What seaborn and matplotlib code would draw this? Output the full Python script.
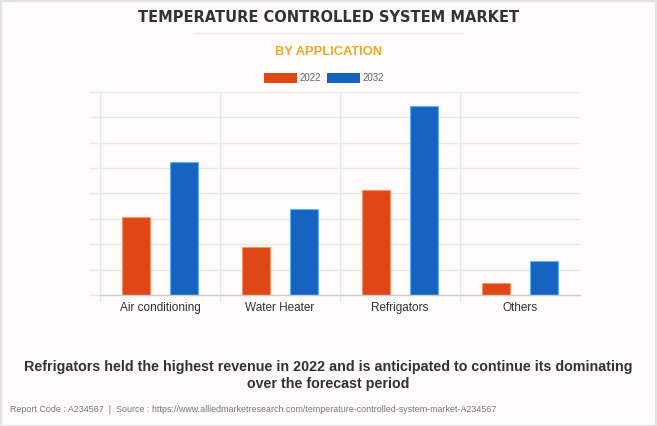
import numpy as np
import pandas as pd
import matplotlib.pyplot as plt
import seaborn as sns
from matplotlib.patches import Rectangle
from matplotlib.lines import Line2D

# =====================================================
# DATA (gridline units)
# =====================================================

categories = ["Air conditioning", "Water Heater", "Refrigators", "Others"]
years = ["2022", "2032"]
values_2022 = [3.08, 1.89, 4.12, 0.48]
values_2032 = [5.22, 3.39, 7.45, 1.35]

colors = {"2022": "#DF4716", "2032": "#1565C0"}

df = pd.DataFrame({
    "Application": categories * 2,
    "Year": ["2022"] * len(categories) + ["2032"] * len(categories),
    "Value": values_2022 + values_2032,
})

# =====================================================
# FIGURE
# =====================================================

sns.set_theme(style="white")
plt.rcParams["font.family"] = ["Liberation Sans", "DejaVu Sans"]

bg = "#FDFCFB"
fig = plt.figure(figsize=(6.57, 4.26), dpi=100, facecolor=bg)
ax = fig.add_axes([100 / 657, 1 - 295 / 426, 480 / 657, (295 - 91.7) / 426])
ax.set_facecolor(bg)

sns.barplot(
    data=df,
    x="Application",
    y="Value",
    hue="Year",
    palette=colors,
    saturation=1,
    width=0.8,
    gap=0.4,
    linewidth=0.8,
    legend=False,
    ax=ax,
)

# lighter edges per series
for patch in ax.patches:
    fc = patch.get_facecolor()
    patch.set_edgecolor((min(1, fc[0] + 0.3), min(1, fc[1] + 0.3), min(1, fc[2] + 0.3), 1))

ax.set_ylim(0, 8)
ax.set_xlim(-0.5, 3.5)
ax.set_xlabel("")
ax.set_ylabel("")
ax.set_yticks(np.arange(0, 9, 1))
ax.set_yticklabels([])
ax.set_xticks(range(len(categories)))
ax.set_xticklabels(categories, fontsize=8.5, color="#333333")
ax.tick_params(axis="x", length=0, pad=5)
ax.tick_params(axis="y", left=True, length=8, color="#E8E8E8", width=1)

ax.grid(axis="y", color="#E8E8E8", linewidth=1)
ax.set_axisbelow(True)
for s in ["top", "right", "left"]:
    ax.spines[s].set_visible(False)
ax.spines["bottom"].set_color("#CCCCCC")
ax.spines["bottom"].set_linewidth(1)

# vertical separators between categories (extend a little below axis)
for xv in [-0.5, 0.5, 1.5, 2.5]:
    ax.add_line(Line2D([xv, xv], [-0.25, 8], color="#E8E8E8", linewidth=1,
                       clip_on=False, zorder=0))

# =====================================================
# TEXTS
# =====================================================

fig.text(0.5, 1 - 18 / 426, "TEMPERATURE CONTROLLED SYSTEM MARKET",
         ha="center", va="center", fontsize=10.5, fontweight="bold",
         color="#333333", fontfamily="DejaVu Sans")
fig.add_artist(Line2D([193 / 657, 463 / 657], [1 - 33 / 426, 1 - 33 / 426],
                      color="#EBEBEB", linewidth=1))
fig.text(0.5, 1 - 52 / 426, "BY APPLICATION", ha="center", va="center",
         fontsize=9.3, fontweight="bold", color="#F5A623")

# legend
for i, (yr, x0) in enumerate(zip(years, [264, 327])):
    fig.add_artist(Rectangle((x0 / 657, 1 - 83 / 426), 33 / 657, 10 / 426,
                             facecolor=colors[yr], edgecolor="none",
                             transform=fig.transFigure))
    fig.text((x0 + 36) / 657, 1 - 78 / 426, yr, ha="left", va="center",
             fontsize=7, color="#666666")

fig.text(0.5, 1 - 367 / 426,
         "Refrigators held the highest revenue in 2022 and is anticipated to continue its dominating",
         ha="center", va="center", fontsize=10.3, fontweight="bold", color="#333333")
fig.text(0.5, 1 - 384 / 426, "over the forecast period",
         ha="center", va="center", fontsize=10.3, fontweight="bold", color="#333333")
fig.text(10 / 657, 1 - 409 / 426,
         "Report Code : A234567  |  Source : https://www.alliedmarketresearch.com/temperature-controlled-system-market-A234567",
         ha="left", va="center", fontsize=6.4, color="#777777")

# outer frame
fig.add_artist(Rectangle((0.5 / 657, 0.5 / 426), 655.5 / 657, 424.5 / 426,
                         facecolor="none", edgecolor="#E2E2E2", linewidth=1.5,
                         transform=fig.transFigure))

plt.savefig("out.png", dpi=100, facecolor=bg)
plt.close()
